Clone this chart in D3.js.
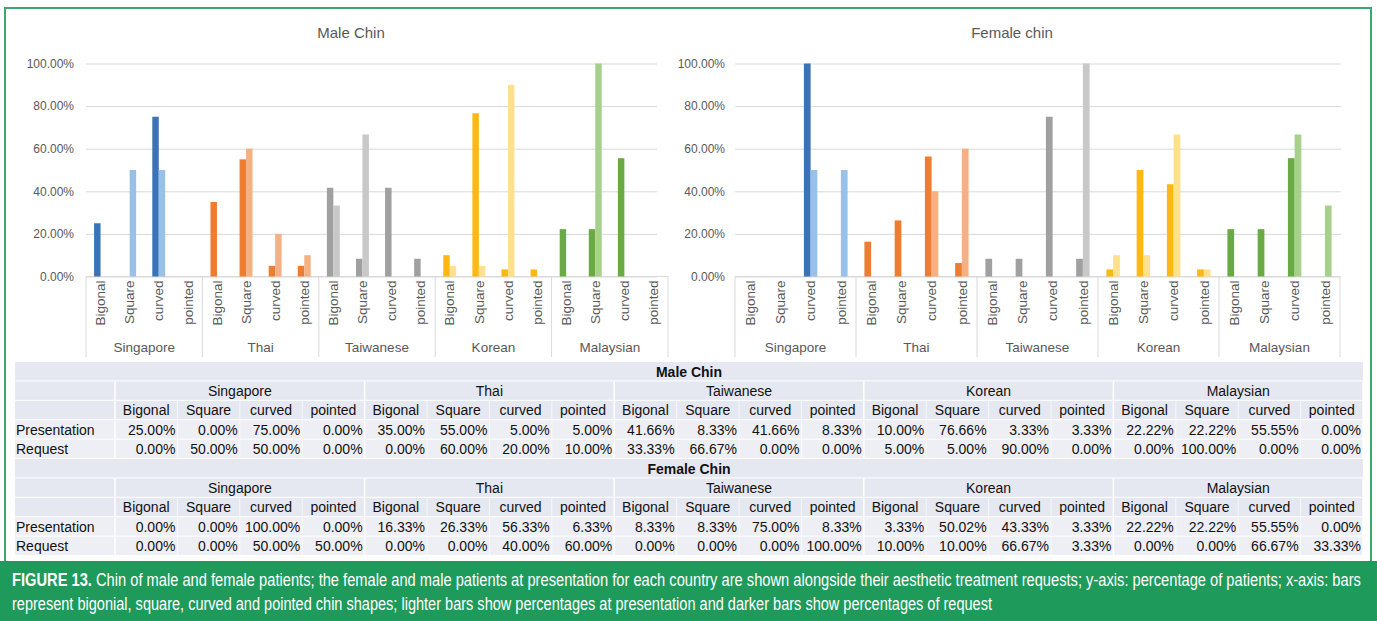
<!DOCTYPE html>
<html>
<head>
<meta charset="utf-8">
<script src="https://cdn.jsdelivr.net/npm/d3@7/dist/d3.min.js"></script>
<style>
  body { margin: 0; background: #fff; }
  svg { display: block; }
</style>
</head>
<body>
<svg id="fig" width="1377" height="621"></svg>
<script>
// ---- data -------------------------------------------------------------
const countries = ["Singapore", "Thai", "Taiwanese", "Korean", "Malaysian"];
const shapes = ["Bigonal", "Square", "curved", "pointed"];
const yTicks = [0, 20, 40, 60, 80, 100];

// percentages per country (rows) and chin shape (columns)
const malePresentation = [
  [25, 0, 75, 0],
  [35, 55, 5, 5],
  [41.66, 8.33, 41.66, 8.33],
  [10, 76.66, 3.33, 3.33],
  [22.22, 22.22, 55.55, 0]
];
const maleRequest = [
  [0, 50, 50, 0],
  [0, 60, 20, 10],
  [33.33, 66.67, 0, 0],
  [5, 5, 90, 0],
  [0, 100, 0, 0]
];
const femalePresentation = [
  [0, 0, 100, 0],
  [16.33, 26.33, 56.33, 6.33],
  [8.33, 8.33, 75, 8.33],
  [3.33, 50.02, 43.33, 3.33],
  [22.22, 22.22, 55.55, 0]
];
const femaleRequest = [
  [0, 0, 50, 50],
  [0, 0, 40, 60],
  [0, 0, 0, 100],
  [10, 10, 66.67, 3.33],
  [0, 0, 66.67, 33.33]
];
const rowLabels = ["Presentation", "Request"];

// ---- styling ----------------------------------------------------------
const darkColors  = ["#3b73b6", "#ed7d31", "#a0a0a0", "#fdb813", "#6aaa45"];
const lightColors = ["#99c0e6", "#f4b183", "#c8c8c8", "#ffe08c", "#a8d08d"];
const axisText = "#595959";
const gridColor = "#d9d9d9";
const sansFont = "'Liberation Sans', Arial, sans-serif";

const svg = d3.select("#fig");
svg.append("rect").attr("width", 1377).attr("height", 621).attr("fill", "#fff");

// outer frame
svg.append("rect")
  .attr("x", 5).attr("y", 8).attr("width", 1366).attr("height", 556)
  .attr("fill", "none").attr("stroke", "#3da86c").attr("stroke-width", 2);

// ---- clustered column chart ------------------------------------------
function drawChart(cfg) {
  const g = svg.append("g");
  const yTop = 63.5, yBase = 276.5;
  const y = d3.scaleLinear().domain([0, 100]).range([yBase, yTop]);

  // y axis with gridlines
  const yAxis = d3.axisLeft(y)
    .tickValues(yTicks)
    .tickSize(-(cfg.gridEnd - cfg.plotStart))
    .tickPadding(cfg.plotStart - cfg.labelRight)
    .tickFormat(d => d3.format(".2f")(d) + "%");
  const ya = g.append("g")
    .attr("transform", `translate(${cfg.plotStart},0)`)
    .call(yAxis);
  ya.select(".domain").remove();
  ya.selectAll(".tick line").attr("stroke", gridColor).attr("stroke-width", 1);
  ya.selectAll(".tick text")
    .attr("fill", axisText)
    .style("font-family", sansFont)
    .style("font-size", "12px");

  // baseline of the category axis
  g.append("line")
    .attr("x1", cfg.plotStart).attr("x2", cfg.plotEnd)
    .attr("y1", yBase).attr("y2", yBase)
    .attr("stroke", gridColor);

  const x0 = d3.scaleBand().domain(countries).range([cfg.plotStart, cfg.plotEnd]);
  const x1 = d3.scaleBand().domain(shapes).range([0, x0.bandwidth()]);
  const x2 = d3.scaleBand().domain(["pres", "req"])
    .range([0, x1.bandwidth()]).paddingInner(0).paddingOuter(1.25);

  const groups = g.selectAll("g.country")
    .data(countries)
    .join("g")
    .attr("class", "country")
    .attr("transform", d => `translate(${x0(d)},0)`);

  groups.each(function (country, ci) {
    const cg = d3.select(this);
    const cells = shapes.map((s, si) => ({
      shape: s,
      pres: cfg.pres[ci][si],
      req: cfg.req[ci][si]
    }));
    cells.forEach(c => {
      [["pres", darkColors[ci]], ["req", lightColors[ci]]].forEach(([k, col]) => {
        if (c[k] <= 0) return;
        cg.append("rect")
          .attr("x", x1(c.shape) + x2(k))
          .attr("width", x2.bandwidth())
          .attr("y", y(c[k]))
          .attr("height", yBase - y(c[k]))
          .attr("fill", col);
      });
      // rotated shape label
      cg.append("text")
        .attr("transform",
          `translate(${x1(c.shape) + x1.bandwidth() / 2},${yBase + 4}) rotate(-90)`)
        .attr("text-anchor", "end")
        .attr("dy", "0.35em")
        .attr("fill", axisText)
        .style("font-family", sansFont)
        .style("font-size", "13.5px")
        .text(c.shape);
    });
    cg.append("text")
      .attr("x", x0.bandwidth() / 2)
      .attr("y", 352)
      .attr("text-anchor", "middle")
      .attr("fill", axisText)
      .style("font-family", sansFont)
      .style("font-size", "13.5px")
      .text(country);
  });

  // group separators of the multi-level category axis
  const bounds = countries.map(c => x0(c)).concat([cfg.plotEnd]);
  g.selectAll("line.sep")
    .data(bounds)
    .join("line")
    .attr("class", "sep")
    .attr("x1", d => d).attr("x2", d => d)
    .attr("y1", yBase).attr("y2", 357)
    .attr("stroke", gridColor);

  g.append("text")
    .attr("x", cfg.titleX).attr("y", 38)
    .attr("text-anchor", "middle")
    .attr("fill", axisText)
    .style("font-family", sansFont)
    .style("font-size", "15px")
    .text(cfg.title);
}

drawChart({
  title: "Male Chin", titleX: 351,
  labelRight: 74, plotStart: 86, plotEnd: 668, gridEnd: 657,
  pres: malePresentation, req: maleRequest
});
drawChart({
  title: "Female chin", titleX: 1012,
  labelRight: 725, plotStart: 735, plotEnd: 1340, gridEnd: 1341,
  pres: femalePresentation, req: femaleRequest
});

// ---- data table -------------------------------------------------------
const tLeft = 15, tRight = 1363, labelColEnd = 115;
const rowH = 19.4, tTop = 362;
const groupW = (tRight - labelColEnd) / countries.length;
const colW = groupW / shapes.length;
const fmt = v => d3.format(".2f")(v) + "%";
const tableFont = "'Liberation Sans', Arial, sans-serif";
const tg = svg.append("g");

function tableBlock(title, pres, req, top) {
  const rowsKind = ["title", "country", "shape", "data", "data"];
  rowsKind.forEach((k, i) => {
    tg.append("rect")
      .attr("x", tLeft).attr("y", top + i * rowH)
      .attr("width", tRight - tLeft).attr("height", rowH - 1)
      .attr("fill", k === "data" ? "#eeeff5" : "#e6e8f1");
  });
  // cell dividers
  for (let r = 1; r < 5; r++) {
    d3.range(countries.length + 1).forEach(ci => {
      tg.append("line")
        .attr("x1", labelColEnd + ci * groupW).attr("x2", labelColEnd + ci * groupW)
        .attr("y1", top + r * rowH).attr("y2", top + (r + 1) * rowH - 1)
        .attr("stroke", "#fff").attr("stroke-width", 1.5);
    });
    if (r >= 2) {
      d3.range(countries.length * shapes.length).forEach(j => {
        if (j % shapes.length === 0) return;
        tg.append("line")
          .attr("x1", labelColEnd + j * colW).attr("x2", labelColEnd + j * colW)
          .attr("y1", top + r * rowH).attr("y2", top + (r + 1) * rowH - 1)
          .attr("stroke", "#fff").attr("stroke-width", 1).attr("opacity", 0.7);
      });
    }
  }
  const base = i => top + i * rowH + 14.5;
  tg.append("text")
    .attr("x", (tLeft + tRight) / 2).attr("y", base(0))
    .attr("text-anchor", "middle").attr("font-weight", "bold")
    .style("font-family", tableFont).style("font-size", "14px").attr("fill", "#111")
    .text(title);
  countries.forEach((c, ci) => {
    const gx = labelColEnd + ci * groupW;
    tg.append("text")
      .attr("x", gx + groupW / 2).attr("y", base(1))
      .attr("text-anchor", "middle")
      .style("font-family", tableFont).style("font-size", "14px").attr("fill", "#111")
      .text(c);
    shapes.forEach((s, si) => {
      const cx = gx + si * colW;
      tg.append("text")
        .attr("x", cx + colW / 2).attr("y", base(2))
        .attr("text-anchor", "middle")
        .style("font-family", tableFont).style("font-size", "14px").attr("fill", "#111")
        .text(s);
      [pres, req].forEach((arr, ri) => {
        tg.append("text")
          .attr("x", cx + colW - 2).attr("y", base(3 + ri))
          .attr("text-anchor", "end")
          .style("font-family", tableFont).style("font-size", "14px").attr("fill", "#111")
          .text(fmt(arr[ci][si]));
      });
    });
  });
  rowLabels.forEach((l, ri) => {
    tg.append("text")
      .attr("x", tLeft + 1).attr("y", base(3 + ri))
      .style("font-family", tableFont).style("font-size", "14px").attr("fill", "#111")
      .text(l);
  });
}
tableBlock("Male Chin", malePresentation, maleRequest, tTop);
tableBlock("Female Chin", femalePresentation, femaleRequest, tTop + 5 * rowH);

// ---- caption band -----------------------------------------------------
svg.append("rect")
  .attr("x", 0).attr("y", 561).attr("width", 1377).attr("height", 60)
  .attr("fill", "#1e9a5b");

const capFont = "'Liberation Sans Narrow', 'Liberation Sans', Arial, sans-serif";
function captionLine(parts, x, yb, targetW) {
  const holder = svg.append("g");
  const t = holder.append("text")
    .attr("fill", "#fff")
    .style("font-family", capFont)
    .style("font-size", "18.5px");
  parts.forEach(p => {
    t.append("tspan").attr("font-weight", p.bold ? "bold" : "normal").text(p.text);
  });
  const w = t.node().getComputedTextLength();
  holder.attr("transform", `translate(${x},${yb}) scale(${targetW / w},1)`);
}
captionLine([
  { text: "FIGURE 13.", bold: true },
  { text: " Chin of male and female patients; the female and male patients at presentation for each country are shown alongside their aesthetic treatment requests; y-axis: percentage of patients; x-axis: bars" }
], 12, 586, 1350);
captionLine([
  { text: "represent bigonial, square, curved and pointed chin shapes; lighter bars show percentages at presentation and darker bars show percentages of request" }
], 12, 610, 981);
</script>
</body>
</html>
